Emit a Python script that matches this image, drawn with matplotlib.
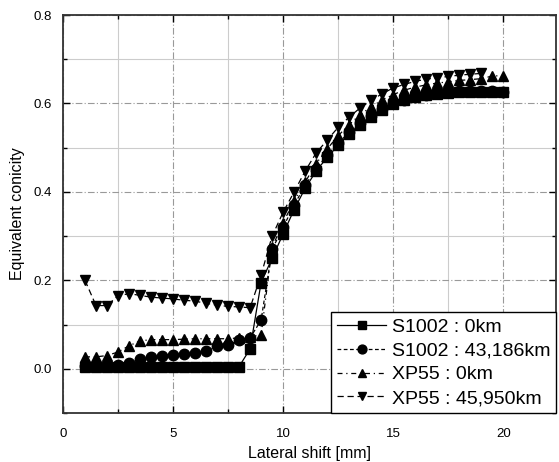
import matplotlib
matplotlib.use("Agg")
import matplotlib.pyplot as plt
from matplotlib.ticker import MultipleLocator

plt.rcParams['font.family'] = ['Liberation Sans', 'DejaVu Sans']

# lateral shift [mm]
shift = [1.0, 1.5, 2.0, 2.5, 3.0, 3.5, 4.0, 4.5, 5.0, 5.5, 6.0, 6.5, 7.0, 7.5,
         8.0, 8.5, 9.0, 9.5, 10.0, 10.5, 11.0, 11.5, 12.0, 12.5, 13.0, 13.5,
         14.0, 14.5, 15.0, 15.5, 16.0, 16.5, 17.0, 17.5, 18.0, 18.5, 19.0,
         19.5, 20.0]

s1002_0 = [0.005, 0.005, 0.005, 0.005, 0.005, 0.005, 0.005, 0.005, 0.005,
           0.005, 0.005, 0.005, 0.005, 0.005, 0.005, 0.045, 0.195, 0.250,
           0.305, 0.360, 0.408, 0.447, 0.478, 0.505, 0.532, 0.551, 0.569,
           0.585, 0.598, 0.607, 0.614, 0.619, 0.622, 0.624, 0.625, 0.626,
           0.626, 0.625, 0.625]

s1002_43186 = [0.007, 0.007, 0.007, 0.008, 0.013, 0.022, 0.027, 0.030, 0.032,
               0.033, 0.036, 0.040, 0.052, 0.053, 0.066, 0.070, 0.110, 0.270,
               0.320, 0.370, 0.415, 0.452, 0.483, 0.510, 0.535, 0.555, 0.572,
               0.588, 0.600, 0.608, 0.615, 0.620, 0.623, 0.626, 0.628, 0.629,
               0.629, 0.628, 0.627]

xp55_0 = [0.027, 0.027, 0.030, 0.038, 0.052, 0.063, 0.066, 0.066, 0.066,
          0.067, 0.068, 0.068, 0.068, 0.068, 0.070, 0.072, 0.077, 0.275,
          0.330, 0.380, 0.422, 0.464, 0.497, 0.527, 0.552, 0.575, 0.592,
          0.608, 0.620, 0.630, 0.637, 0.642, 0.646, 0.649, 0.652, 0.654,
          0.656, 0.662, 0.663]

xp55_45950 = [0.200, 0.143, 0.143, 0.165, 0.170, 0.166, 0.162, 0.160, 0.158,
              0.155, 0.153, 0.148, 0.144, 0.141, 0.140, 0.138, 0.212, 0.300,
              0.354, 0.400, 0.447, 0.488, 0.517, 0.546, 0.569, 0.590, 0.607,
              0.622, 0.635, 0.643, 0.650, 0.655, 0.658, 0.661, 0.664, 0.666,
              0.668]

labels = ['S1002 : 0km', 'S1002 : 43,186km', 'XP55 : 0km', 'XP55 : 45,950km']

fig = plt.figure(figsize=(5.59, 4.62), dpi=100)
ax = fig.add_axes([0.1127, 0.106, 0.882, 0.8615])

ax.plot(shift, s1002_0, color='black', lw=0.9, ls='-', marker='s',
        ms=7.5, label=labels[0])
ax.plot(shift, s1002_43186, color='black', lw=0.9, ls=(0, (3, 2)), marker='o',
        ms=7.5, label=labels[1])
ax.plot(shift, xp55_0, color='black', lw=0.9, ls=(0, (4, 3, 1, 3)), marker='^',
        ms=7.5, label=labels[2])
ax.plot(shift[:len(xp55_45950)], xp55_45950, color='black', lw=0.9,
        ls=(0, (5, 3)), marker='v', ms=7.5, label=labels[3])

ax.set_xlim(0, 22.4)
ax.set_ylim(-0.1, 0.8)
ax.xaxis.set_major_locator(MultipleLocator(5))
ax.xaxis.set_minor_locator(MultipleLocator(2.5))
ax.yaxis.set_major_locator(MultipleLocator(0.2))
ax.yaxis.set_minor_locator(MultipleLocator(0.1))
ax.set_yticks([0.0, 0.2, 0.4, 0.6, 0.8])
ax.set_yticklabels(['0.0', '0.2', '0.4', '0.6', '0.8'])

ax.grid(True, which='major', color='#999999', ls=(0, (6, 2, 1, 2)), lw=0.8)
ax.grid(True, which='minor', color='#cccccc', ls='-', lw=0.8)
ax.set_axisbelow(True)

ax.tick_params(which='both', direction='in', top=True, right=True,
               labelsize=9.5, width=1)
ax.tick_params(which='major', length=5, pad=8)
ax.tick_params(axis='x', which='major', pad=11)
ax.tick_params(which='minor', length=3)
for sp in ax.spines.values():
    sp.set_linewidth(1.3)
    sp.set_color('#333333')

ax.set_xlabel('Lateral shift [mm]', fontsize=11.5, labelpad=4)
ax.set_ylabel('Equivalent conicity', fontsize=11.5, labelpad=6)

leg = ax.legend(loc='lower right', fontsize=14, frameon=True, fancybox=False,
                edgecolor='black', borderaxespad=0.0, handlelength=2.5,
                labelspacing=0.32, borderpad=0.3, handletextpad=0.3,
                markerscale=0.85, framealpha=1)
leg.get_frame().set_linewidth(1.0)

fig.savefig('out.png', dpi=100)
